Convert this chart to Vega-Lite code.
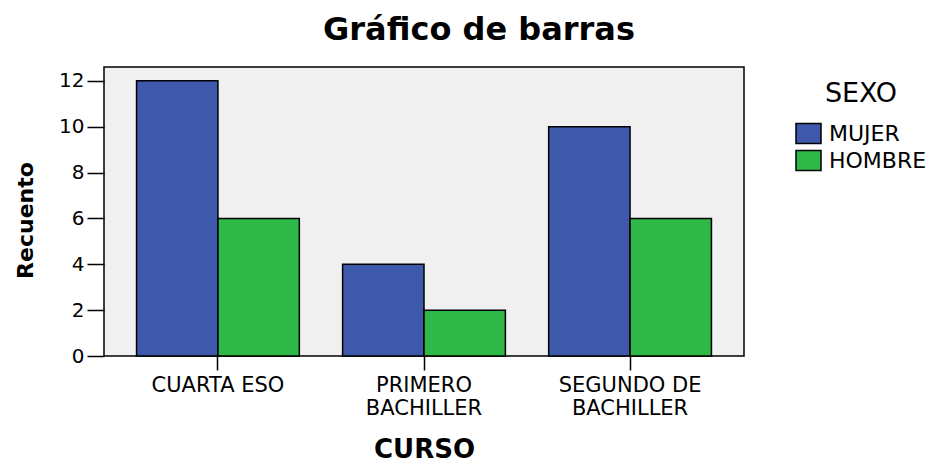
{
  "$schema": "https://vega.github.io/schema/vega-lite/v6.json",
  "width": 640,
  "height": 289,
  "autosize": {"type": "none"},
  "padding": {"left": 104, "top": 67, "right": 195, "bottom": 107},
  "background": "white",
  "title": {
    "text": "Gráfico de barras",
    "font": "DejaVu Sans",
    "fontSize": 32,
    "fontWeight": "bold",
    "color": "black",
    "anchor": "middle",
    "frame": "group",
    "dx": 55,
    "baseline": "alphabetic",
    "offset": 27,
    "dy": 32
  },
  "data": {
    "values": [
      {"CURSO": "CUARTA ESO", "SEXO": "MUJER", "Recuento": 12},
      {"CURSO": "CUARTA ESO", "SEXO": "HOMBRE", "Recuento": 6},
      {"CURSO": "PRIMERO BACHILLER", "SEXO": "MUJER", "Recuento": 4},
      {"CURSO": "PRIMERO BACHILLER", "SEXO": "HOMBRE", "Recuento": 2},
      {"CURSO": "SEGUNDO DE BACHILLER", "SEXO": "MUJER", "Recuento": 10},
      {"CURSO": "SEGUNDO DE BACHILLER", "SEXO": "HOMBRE", "Recuento": 6}
    ]
  },
  "mark": {"type": "bar", "stroke": "black", "strokeWidth": 1.5},
  "encoding": {
    "x": {
      "field": "CURSO",
      "type": "nominal",
      "sort": null,
      "scale": {"paddingInner": 0.21, "paddingOuter": 0.158},
      "axis": {
        "title": "CURSO",
        "titleFont": "DejaVu Sans",
        "titleFontSize": 26,
        "titleFontWeight": "bold",
        "titleColor": "black",
        "titleBaseline": "alphabetic",
        "titleX": 320,
        "titleY": 101,
        "titleAlign": "center",
        "labelAngle": 0,
        "labelFont": "DejaVu Sans",
        "labelFontSize": 21,
        "labelColor": "black",
        "labelPadding": 4,
        "labelLineHeight": 23,
        "labelExpr": "datum.value == 'PRIMERO BACHILLER' ? ['PRIMERO', 'BACHILLER'] : datum.value == 'SEGUNDO DE BACHILLER' ? ['SEGUNDO DE', 'BACHILLER'] : datum.value",
        "domain": false,
        "ticks": true,
        "tickSize": 14,
        "tickColor": "black",
        "tickWidth": 1.5,
        "grid": false
      }
    },
    "xOffset": {"field": "SEXO", "type": "nominal", "sort": ["MUJER", "HOMBRE"], "scale": {"paddingInner": 0, "paddingOuter": 0}},
    "y": {
      "field": "Recuento",
      "type": "quantitative",
      "scale": {"domain": [0, 12.6], "nice": false},
      "axis": {
        "title": "Recuento",
        "titleFont": "DejaVu Sans",
        "titleFontSize": 22,
        "titleFontWeight": "bold",
        "titleColor": "black",
        "titleAngle": -90,
        "titleAlign": "center",
        "titleBaseline": "middle",
        "titleX": -79,
        "titleY": 153,
        "values": [0, 2, 4, 6, 8, 10, 12],
        "labelFont": "DejaVu Sans",
        "labelFontSize": 20,
        "labelColor": "black",
        "labelPadding": 3,
        "domain": false,
        "tickSize": 17,
        "tickColor": "black",
        "tickWidth": 1.5,
        "grid": false
      }
    },
    "color": {
      "field": "SEXO",
      "type": "nominal",
      "sort": ["MUJER", "HOMBRE"],
      "scale": {"domain": ["MUJER", "HOMBRE"], "range": ["#3E58AC", "#2EB848"]},
      "legend": {
        "title": "SEXO",
        "orient": "none",
        "legendX": 691,
        "legendY": 14,
        "padding": 0,
        "titleFont": "DejaVu Sans",
        "titleFontSize": 27,
        "titleFontWeight": "normal",
        "titleColor": "black",
        "titleAnchor": "middle",
        "titlePadding": 12,
        "labelFont": "DejaVu Sans",
        "labelFontSize": 22,
        "labelColor": "black",
        "labelOffset": 7,
        "symbolType": "M-1,-0.8H1V0.8H-1Z",
        "symbolSize": 625,
        "symbolStrokeColor": "black",
        "symbolStrokeWidth": 1.5,
        "rowPadding": 0
      }
    }
  },
  "config": {
    "view": {"fill": "#F0F0F0", "stroke": "black", "strokeWidth": 1.5}
  }
}
